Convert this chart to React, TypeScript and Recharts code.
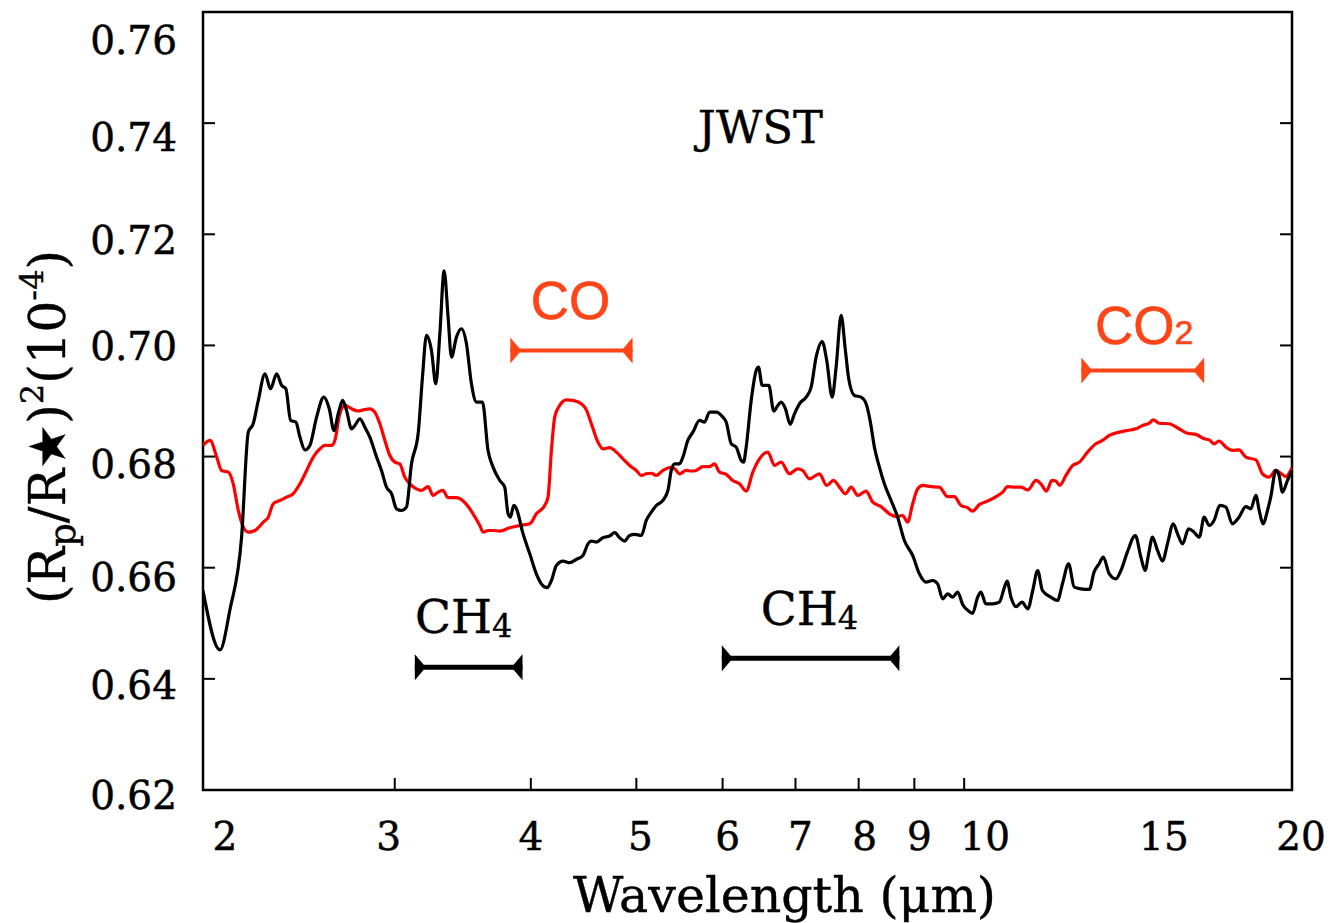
import React from 'react';
import { LineChart, Line, XAxis, YAxis, ReferenceLine, ReferenceDot, ReferenceArea, Label } from 'recharts';

const SERIF = '"DejaVu Serif", serif';
const SANS = '"Liberation Sans", Arial, sans-serif';
const ORANGE = '#ff4517';

// ---- data ----
const blackWavelength = [
  2.0, 2.073, 2.117, 2.17, 2.201, 2.224, 2.248, 2.28, 2.307, 2.337, 2.362, 2.383, 2.407, 2.434, 2.455, 2.481, 2.507, 2.543,
  2.582, 2.612, 2.638, 2.662, 2.687, 2.709, 2.738, 2.757, 2.787, 2.816, 2.846, 2.887, 2.917, 2.948, 2.98, 3.011, 3.043,
  3.075, 3.108, 3.152, 3.181, 3.208, 3.242, 3.272, 3.3, 3.33, 3.358, 3.382, 3.418, 3.454, 3.491, 3.528, 3.566,
  3.611, 3.654, 3.693, 3.746, 3.785, 3.812, 3.831, 3.858, 3.88, 3.935, 3.991, 4.047, 4.09, 4.139, 4.178, 4.222, 4.282,
  4.343, 4.404, 4.466, 4.514, 4.546, 4.594, 4.659, 4.725, 4.776, 4.826, 4.878, 4.929, 4.982, 5.053, 5.106, 5.161, 5.215,
  5.289, 5.345, 5.383, 5.421, 5.479, 5.517, 5.575, 5.635, 5.715, 5.776, 5.837, 5.92, 6.003, 6.046, 6.111, 6.175, 6.241,
  6.272, 6.307, 6.374, 6.442, 6.473, 6.524, 6.616, 6.686, 6.743, 6.791, 6.853, 6.922, 6.985, 7.059, 7.159, 7.236, 7.312,
  7.406, 7.478, 7.564, 7.628, 7.709, 7.779, 7.834, 7.929, 8.042, 8.127, 8.196, 8.271, 8.359, 8.447, 8.568, 8.688, 8.812,
  8.968, 9.096, 9.225, 9.356, 9.454, 9.555, 9.657, 9.759, 9.863, 9.967, 10.11, 10.18, 10.29, 10.36, 10.47, 10.62, 10.77,
  10.89, 10.95, 11.04, 11.16, 11.3, 11.44, 11.56, 11.68, 11.8, 12.01, 12.18, 12.31, 12.47, 12.62, 12.8, 13.03, 13.16,
  13.3, 13.42, 13.59, 13.78, 13.93, 14.12, 14.36, 14.53, 14.66, 14.77, 14.89, 15.05, 15.21, 15.37, 15.56, 15.7, 15.87,
  16.07, 16.26, 16.44, 16.61, 16.79, 16.96, 17.17, 17.39, 17.63, 17.88, 18.14, 18.33, 18.53, 18.66, 18.81, 18.99, 19.12,
  19.33, 19.46, 19.6, 19.81, 20.0,
];
const blackSpectrum = [
  0.6559, 0.6452, 0.6524, 0.6655, 0.6844, 0.6859, 0.6901, 0.6949, 0.6922, 0.6949, 0.6928, 0.6922, 0.6865, 0.6862, 0.6835,
  0.6812, 0.682, 0.6871, 0.6907, 0.6886, 0.6847, 0.6877, 0.6901, 0.6883, 0.685, 0.6856, 0.6868, 0.6853, 0.6835, 0.6799,
  0.6775, 0.6745, 0.6733, 0.6706, 0.6703, 0.6709, 0.6787, 0.6841, 0.6943, 0.7018, 0.6991, 0.6931, 0.7021, 0.7134, 0.7051,
  0.6979, 0.7015, 0.703, 0.7003, 0.6931, 0.6898,
  0.6898, 0.6811, 0.6781, 0.6757, 0.6745, 0.6697, 0.6691, 0.6712, 0.6706, 0.6661, 0.6625, 0.6589, 0.6571, 0.6564, 0.6577,
  0.6604, 0.6612, 0.6609, 0.6615, 0.6622, 0.6643, 0.6648, 0.6646, 0.6654, 0.6657, 0.6663, 0.6654, 0.6648, 0.6658, 0.666,
  0.6658, 0.6685, 0.67, 0.6712, 0.6721, 0.6739, 0.6775, 0.6787, 0.6787, 0.6799, 0.6829, 0.6844, 0.6865, 0.6862, 0.688,
  0.688, 0.6871, 0.6862, 0.6823, 0.6817, 0.6793, 0.679,
  0.6817, 0.6901, 0.6955, 0.6961, 0.6928, 0.6928, 0.6882, 0.6892, 0.6898, 0.6886, 0.6858, 0.6877, 0.6895, 0.6907, 0.6925,
  0.6979, 0.7007, 0.6973, 0.6907, 0.6961, 0.7054, 0.6991, 0.694, 0.691, 0.6907, 0.6895, 0.6865, 0.6817, 0.6781, 0.6751,
  0.6721, 0.6691, 0.6649, 0.6622, 0.6589, 0.6574, 0.6577, 0.6571, 0.6544, 0.6553, 0.6547, 0.6556, 0.6534, 0.6521, 0.6518,
  0.6547, 0.6556, 0.6535, 0.6535, 0.6538, 0.6565, 0.6576, 0.6547, 0.653,
  0.6538, 0.6526, 0.6559, 0.6595, 0.6559, 0.6547, 0.6541, 0.6571, 0.6607, 0.6565, 0.6562, 0.6561, 0.6592, 0.6607, 0.6619,
  0.6589, 0.658, 0.6595, 0.6628, 0.6658, 0.6619, 0.6595, 0.6625, 0.6655, 0.6631, 0.6612, 0.6643, 0.6679, 0.6661, 0.6643,
  0.667, 0.6664, 0.6655, 0.6691, 0.6676, 0.6685, 0.6712, 0.6709, 0.6679, 0.6691, 0.671, 0.6706, 0.673, 0.6703, 0.6679,
  0.6703, 0.6727, 0.6775, 0.6766, 0.6736, 0.6757, 0.6775,
];

const redWavelength = [
  2.0, 2.03, 2.059, 2.08, 2.11, 2.132, 2.155, 2.178, 2.201, 2.232, 2.272, 2.296, 2.32, 2.353, 2.387, 2.42, 2.455, 2.49,
  2.525, 2.561, 2.588, 2.625, 2.643, 2.671, 2.7, 2.738, 2.777, 2.806, 2.846, 2.876, 2.907, 2.938, 2.969, 3.0, 3.032,
  3.064, 3.097, 3.141, 3.174, 3.219, 3.253, 3.288, 3.322, 3.358, 3.418, 3.491, 3.54, 3.591, 3.616, 3.654, 3.693, 3.746,
  3.826, 3.907, 3.991, 4.047, 4.119, 4.148, 4.178, 4.207, 4.252, 4.313, 4.373, 4.451, 4.498, 4.546, 4.61, 4.659, 4.725,
  4.793, 4.86, 4.929, 4.999, 5.053, 5.106, 5.161, 5.215, 5.289, 5.364, 5.421, 5.479, 5.556, 5.615, 5.675, 5.755, 5.837,
  5.898, 5.961, 6.046, 6.131, 6.218, 6.307, 6.396, 6.487, 6.602, 6.697, 6.791, 6.911, 7.034, 7.108, 7.209, 7.364, 7.478,
  7.585, 7.683, 7.779, 7.875, 7.985, 8.127, 8.241, 8.388, 8.537, 8.659, 8.781, 8.874, 8.968, 9.064, 9.16, 9.325, 9.489,
  9.657, 9.793, 9.933, 10.07, 10.18, 10.33, 10.51, 10.7, 10.85, 10.96, 11.12, 11.28, 11.44, 11.64, 11.76, 11.9, 12.04,
  12.14, 12.24, 12.4, 12.58, 12.76, 12.98, 13.21, 13.4, 13.59, 13.88, 14.12, 14.38, 14.58, 14.79, 14.92, 15.1, 15.42,
  15.75, 16.03, 16.32, 16.61, 16.79, 16.96, 17.14, 17.39, 17.63, 17.88, 18.14, 18.53, 18.79, 19.05, 19.33, 19.53, 19.74,
  20.0,
];
const redSpectrum = [
  0.682, 0.6829, 0.6799, 0.6775, 0.6772, 0.6751, 0.6703, 0.6673, 0.6664, 0.6667, 0.6682, 0.6691, 0.6715, 0.6721, 0.6727,
  0.6733, 0.6751, 0.6775, 0.6799, 0.6814, 0.682, 0.682, 0.6829, 0.6877, 0.6892, 0.6886, 0.6882, 0.6884, 0.6886, 0.688,
  0.6859, 0.6829, 0.6802, 0.679, 0.6787, 0.6763, 0.6751, 0.6742, 0.6739, 0.6746, 0.673, 0.6736, 0.6739, 0.6726, 0.6726,
  0.6714, 0.6697, 0.6676, 0.6664, 0.6667, 0.6667, 0.6666, 0.6672, 0.6676, 0.6679, 0.6697, 0.6712, 0.6727, 0.6811, 0.6871,
  0.6892, 0.6902, 0.6901, 0.6895, 0.6884, 0.6859, 0.6826, 0.6814, 0.6816, 0.6808, 0.6796, 0.6784, 0.6775, 0.6766, 0.6769,
  0.677, 0.6766, 0.6775, 0.678, 0.6778, 0.6769, 0.6775, 0.6774, 0.6775, 0.6782, 0.6782, 0.6787, 0.6772, 0.6768, 0.6757,
  0.6751, 0.6738, 0.6772, 0.6796, 0.6808, 0.6784, 0.679, 0.6769, 0.6778, 0.6775, 0.676, 0.6769, 0.6748, 0.6757, 0.6745,
  0.6733, 0.6745, 0.673, 0.6738, 0.6718, 0.671, 0.6697, 0.6692, 0.6694, 0.6682, 0.6715, 0.6742, 0.6748, 0.6746, 0.6745,
  0.6728, 0.6728, 0.6712, 0.6708, 0.6702, 0.6714, 0.672, 0.6728, 0.6736, 0.6746, 0.6745, 0.6745, 0.674, 0.6757, 0.6751,
  0.6738, 0.6757, 0.6756, 0.6748, 0.6766, 0.6784, 0.679, 0.6808, 0.6823, 0.6829, 0.6838, 0.6844, 0.6847, 0.685, 0.6856,
  0.686, 0.6866, 0.686, 0.6859, 0.685, 0.6842, 0.684, 0.6832, 0.683, 0.6823, 0.6828, 0.6817, 0.6811, 0.6812, 0.6799,
  0.6794, 0.6769, 0.6763, 0.6775, 0.677, 0.6764, 0.678,
];

const xTicks = [2, 3, 4, 5, 6, 7, 8, 9, 10, 15, 20];
const yTicks = [0.62, 0.64, 0.66, 0.68, 0.7, 0.72, 0.74, 0.76];
const innerXTicks = [3, 4, 5, 6, 7, 8, 9, 10];
const innerYTicks = [0.64, 0.66, 0.68, 0.7, 0.72, 0.74];

// molecular band markers
const bandName = ['CO', 'CO2', 'CH4', 'CH4'];
const bandStart = [3.83, 12.81, 3.13, 5.99];
const bandEnd = [4.96, 16.61, 3.93, 8.72];
const bandLevel = [0.6991, 0.6955, 0.6421, 0.6437];
const bandLabelX = [4.35, 14.63, 3.47, 7.21];
const bandLabelY = [0.7048, 0.7003, 0.6482, 0.6497];
const bandColor = [ORANGE, ORANGE, '#000000', '#000000'];

const titleText = 'JWST';
const titleX = 6.5;
const titleY = 0.7364;

const blackData = blackWavelength.map((w, i) => ({ w, v: blackSpectrum[i] }));
const redData = redWavelength.map((w, i) => ({ w, v: redSpectrum[i] }));

// ---- styling helpers ----
const xLabelShift: Record<number, number> = { 2: 22, 3: -6, 4: 0, 5: 4, 6: 5, 7: 5, 8: 6, 9: 5, 10: 21, 15: 8, 20: 9 };
const yLabelShift: Record<string, number> = { '0.76': 28, '0.74': 14, '0.72': 6, '0.70': 1, '0.68': 7, '0.66': 9, '0.64': 6, '0.62': 5 };

const BottomTick = (props: any) => {
  const { x, y, payload } = props;
  const v = payload.value;
  return (
    <g>
      {innerXTicks.includes(v) && <line x1={x} x2={x} y1={y} y2={y - 12} stroke="#000" strokeWidth={2} />}
      <text
        x={x + (xLabelShift[v] ?? 0)}
        y={y + 60}
        textAnchor="middle"
        fontFamily={SERIF}
        fontSize={39}
        fill="#000"
        stroke="#000"
        strokeWidth={0.5}
      >
        {v}
      </text>
    </g>
  );
};

const LeftTick = (props: any) => {
  const { x, y, payload } = props;
  const v: number = payload.value;
  const key = v.toFixed(2);
  const inner = innerYTicks.some((t) => Math.abs(t - v) < 1e-6);
  return (
    <g>
      {inner && <line x1={x} x2={x + 12} y1={y} y2={y} stroke="#000" strokeWidth={2} />}
      <text
        x={x - 26}
        y={y + (yLabelShift[key] ?? 6)}
        dy="0.36em"
        textAnchor="end"
        fontFamily={SERIF}
        fontSize={39}
        fill="#000"
        stroke="#000"
        strokeWidth={0.5}
      >
        {key}
      </text>
    </g>
  );
};

const RightTick = (props: any) => {
  const { x, y, payload } = props;
  const v: number = payload.value;
  const inner = innerYTicks.some((t) => Math.abs(t - v) < 1e-6);
  return inner ? <line x1={x} x2={x - 12} y1={y} y2={y} stroke="#000" strokeWidth={2} /> : <g />;
};

const YTitle = (props: any) => {
  const vb = props.viewBox || { x: 0, y: 0, width: 0, height: 0 };
  const cx = vb.x + 57;
  const cy = vb.y + vb.height / 2 + 26;
  return (
    <text
      x={cx}
      y={cy}
      transform={`rotate(-90 ${cx} ${cy})`}
      textAnchor="middle"
      fontFamily={SERIF}
      fontSize={50}
      fill="#000"
      stroke="#000"
      strokeWidth={0.4}
    >
      (R
      <tspan dy={10} fontSize={37}>p</tspan>
      <tspan dy={-10}>/R★)</tspan>
      <tspan dy={-22} fontSize={32}>2</tspan>
      <tspan dy={22}>(10</tspan>
      <tspan dy={-22} fontSize={32}>-4</tspan>
      <tspan dy={22}>)</tspan>
    </text>
  );
};

const XTitle = (props: any) => {
  const vb = props.viewBox || { x: 0, y: 0, width: 0, height: 0 };
  return (
    <text
      x={vb.x + vb.width / 2 + 37}
      y={vb.y + 122}
      textAnchor="middle"
      fontFamily={SERIF}
      fontSize={49}
      fill="#000"
      stroke="#000"
      strokeWidth={0.4}
    >
      Wavelength (μm)
    </text>
  );
};

const makeBandShape = (color: string, thick: number) => (p: any) => {
  const { x1, y1, x2 } = p;
  const h = 13;
  const w = 11;
  return (
    <g>
      <line x1={x1} x2={x2} y1={y1} y2={y1} stroke={color} strokeWidth={thick} />
      <path d={`M${x1},${y1 - h} L${x1 + w},${y1} L${x1},${y1 + h} Z`} fill={color} />
      <path d={`M${x2},${y1 - h} L${x2 - w},${y1} L${x2},${y1 + h} Z`} fill={color} />
    </g>
  );
};

const makeBandLabel = (name: string, color: string) => (p: any) => {
  const { cx, cy } = p;
  if (name.startsWith('CO')) {
    return (
      <text x={cx} y={cy} textAnchor="middle" fontFamily={SANS} fontSize={53} fill={color} stroke={color} strokeWidth={0.6}>
        CO
        {name === 'CO2' && <tspan fontSize={34}>2</tspan>}
      </text>
    );
  }
  return (
    <text x={cx} y={cy} textAnchor="middle" fontFamily={SERIF} fontSize={47} fill={color} stroke={color} strokeWidth={0.4}>
      CH
      <tspan fontSize={32} dy={4}>4</tspan>
    </text>
  );
};

export default function App() {
  return (
    <LineChart width={1332} height={915} margin={{ top: 4, right: 47, bottom: 0, left: 0 }}>
      <XAxis
        dataKey="w"
        type="number"
        scale="log"
        domain={[2, 20]}
        ticks={xTicks}
        allowDataOverflow
        axisLine={false}
        tickLine={false}
        tickSize={0}
        tickMargin={0}
        height={133}
        tick={<BottomTick />}
        interval={0}
      >
        <Label content={<XTitle />} />
      </XAxis>
      <YAxis
        yAxisId="left"
        type="number"
        domain={[0.62, 0.76]}
        ticks={yTicks}
        allowDataOverflow
        axisLine={false}
        tickLine={false}
        tickSize={0}
        tickMargin={0}
        width={195}
        tick={<LeftTick />}
        interval={0}
      >
        <Label content={<YTitle />} />
      </YAxis>
      <YAxis
        yAxisId="right"
        orientation="right"
        type="number"
        domain={[0.62, 0.76]}
        ticks={yTicks}
        allowDataOverflow
        axisLine={false}
        tickLine={false}
        tickSize={0}
        tickMargin={0}
        width={1}
        tick={<RightTick />}
        interval={0}
      />
      <Line
        yAxisId="left"
        data={redData}
        dataKey="v"
        type="monotone"
        stroke="#ff0000"
        strokeWidth={3.2}
        dot={false}
        isAnimationActive={false}
      />
      <Line
        yAxisId="left"
        data={blackData}
        dataKey="v"
        type="monotone"
        stroke="#000000"
        strokeWidth={3.2}
        dot={false}
        isAnimationActive={false}
      />
      <ReferenceArea
        yAxisId="left"
        x1={2}
        x2={20}
        y1={0.62}
        y2={0.76}
        fill="none"
        fillOpacity={0}
        stroke="#000"
        strokeWidth={2.5}
        ifOverflow="visible"
      />
      {bandName.map((n, i) => (
        <ReferenceLine
          key={`band-${i}`}
          yAxisId="left"
          segment={[
            { x: bandStart[i], y: bandLevel[i] },
            { x: bandEnd[i], y: bandLevel[i] },
          ]}
          stroke={bandColor[i]}
          ifOverflow="visible"
          shape={makeBandShape(bandColor[i], i < 2 ? 4 : 5)}
        />
      ))}
      {bandName.map((n, i) => (
        <ReferenceDot
          key={`bandlabel-${i}`}
          yAxisId="left"
          x={bandLabelX[i]}
          y={bandLabelY[i]}
          r={0}
          ifOverflow="visible"
          shape={makeBandLabel(n, bandColor[i])}
        />
      ))}
      <ReferenceDot
        yAxisId="left"
        x={titleX}
        y={titleY}
        r={0}
        ifOverflow="visible"
        shape={(p: any) => (
          <text x={p.cx} y={p.cy} textAnchor="middle" fontFamily={SERIF} fontSize={45} fill="#000" stroke="#000" strokeWidth={0.4}>
            {titleText}
          </text>
        )}
      />
    </LineChart>
  );
}
